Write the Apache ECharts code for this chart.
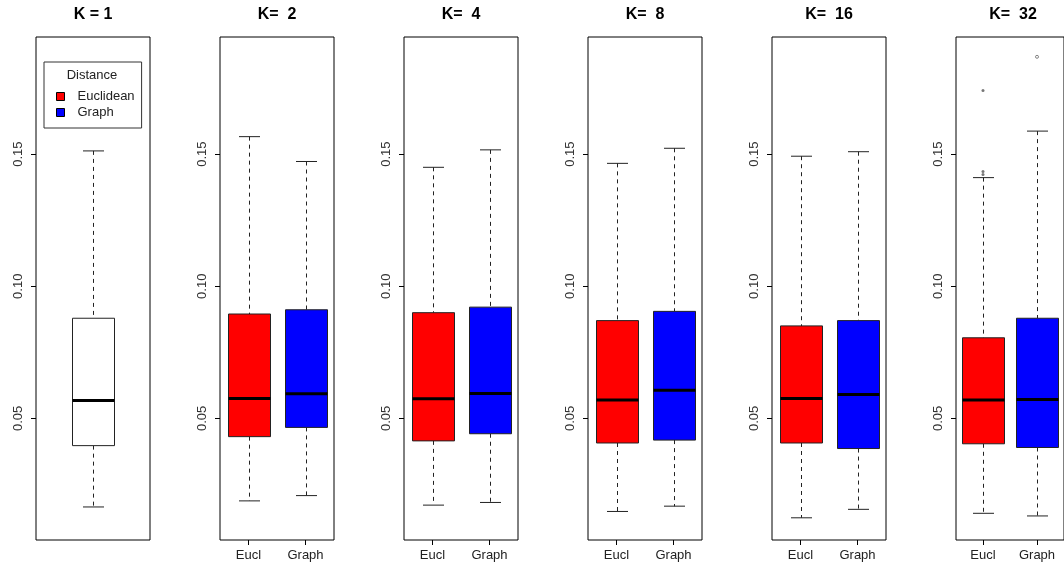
<!DOCTYPE html>
<html>
<head>
<meta charset="utf-8">
<script src="https://cdn.jsdelivr.net/npm/echarts@6/dist/echarts.min.js"></script>
<style>
  html, body { margin: 0; padding: 0; background: #fff; }
  #chart { width: 1064px; height: 568px; }
</style>
</head>
<body>
<div id="chart"></div>
<script>
// ---------- data ----------
const panelTitles = ['K = 1', 'K=  2', 'K=  4', 'K=  8', 'K=  16', 'K=  32'];
const groupLabels = ['Eucl', 'Graph'];
const legendNames = ['Euclidean', 'Graph'];
const yTicks = [0.05, 0.10, 0.15];
// box stats: [lower whisker, Q1, median, Q3, upper whisker]
const allK1 = [0.0165, 0.0397, 0.0568, 0.0879, 0.1512];
const euclStats = [
  [0.0188, 0.0431, 0.0575, 0.0895, 0.1566],  // K=2
  [0.0172, 0.0415, 0.0574, 0.0900, 0.1450],  // K=4
  [0.0148, 0.0407, 0.0570, 0.0870, 0.1465],  // K=8
  [0.0124, 0.0407, 0.0575, 0.0850, 0.1492],  // K=16
  [0.0141, 0.0404, 0.0570, 0.0805, 0.1411]   // K=32
];
const graphStats = [
  [0.0208, 0.0466, 0.0593, 0.0911, 0.1472],
  [0.0182, 0.0442, 0.0594, 0.0921, 0.1516],
  [0.0168, 0.0418, 0.0607, 0.0905, 0.1522],
  [0.0156, 0.0386, 0.0590, 0.0870, 0.1509],
  [0.0131, 0.0390, 0.0572, 0.0879, 0.1587]
];
const euclOutliersK32 = [0.1741, 0.1434, 0.1423];
const graphOutliersK32 = [0.1868];
const yMin = 0.0040, yMax = 0.1943;

// ---------- layout ----------
const FONT = 'Liberation Sans, Arial, sans-serif';
const panelLeft0 = 36, panelStep = 184, panelW = 114, panelTop = 37, panelH = 503;
const colors = { all: '#ffffff', eucl: '#ff0000', graph: '#0000ff' };

function renderBox(params, api) {
  const x = api.value(0);
  const lo = api.coord([x, api.value(1)]);
  const q1 = api.coord([x, api.value(2)]);
  const md = api.coord([x, api.value(3)]);
  const q3 = api.coord([x, api.value(4)]);
  const hi = api.coord([x, api.value(5)]);
  const cx = Math.round(lo[0]) + 0.5;
  const hw = 21, cw = 10.5;
  const fill = api.visual('color');
  const stroke = '#222';
  return {
    type: 'group',
    children: [
      { type: 'line', shape: { x1: cx, y1: hi[1], x2: cx, y2: q3[1] },
        style: { stroke: stroke, lineWidth: 1, lineDash: [4, 4] } },
      { type: 'line', shape: { x1: cx, y1: q1[1], x2: cx, y2: lo[1] },
        style: { stroke: stroke, lineWidth: 1, lineDash: [4, 4] } },
      { type: 'line', shape: { x1: cx - cw, y1: hi[1], x2: cx + cw, y2: hi[1] },
        style: { stroke: stroke, lineWidth: 1 } },
      { type: 'line', shape: { x1: cx - cw, y1: lo[1], x2: cx + cw, y2: lo[1] },
        style: { stroke: stroke, lineWidth: 1 } },
      { type: 'rect', shape: { x: cx - hw, y: q3[1], width: 2 * hw, height: q1[1] - q3[1] },
        style: { fill: fill, stroke: stroke, lineWidth: 1 } },
      { type: 'line', shape: { x1: cx - hw, y1: md[1], x2: cx + hw, y2: md[1] },
        style: { stroke: '#000', lineWidth: 3 } }
    ]
  };
}

const grids = [], xAxes = [], yAxes = [], series = [], graphics = [];
for (let i = 0; i < 6; i++) {
  const left = panelLeft0 + panelStep * i;
  grids.push({ left: left, top: panelTop, width: panelW, height: panelH,
               show: true, borderColor: '#000', borderWidth: 1, backgroundColor: 'transparent' });
  const isFirst = i === 0;
  xAxes.push({
    type: 'category', gridIndex: i,
    data: isFirst ? [''] : groupLabels,
    axisLine: { show: false },
    axisTick: { show: !isFirst, alignWithLabel: true, length: 5, lineStyle: { color: '#000' } },
    axisLabel: { show: !isFirst, margin: 9, fontSize: 13, color: '#222', fontFamily: FONT },
    splitLine: { show: false }
  });
  yAxes.push({
    type: 'value', gridIndex: i, min: yMin, max: yMax,
    axisLine: { show: false },
    axisTick: { show: true, length: 5, customValues: yTicks, lineStyle: { color: '#000' } },
    axisLabel: { show: true, rotate: 90, margin: 11, fontSize: 13, color: '#333', fontFamily: FONT,
                 customValues: yTicks, formatter: v => v.toFixed(2) },
    splitLine: { show: false }
  });
  graphics.push({
    type: 'text',
    x: left + panelW / 2, y: 15,
    style: { text: panelTitles[i], fontSize: 16, fontWeight: 'bold', fontFamily: FONT,
             fill: '#000', textAlign: 'center', textVerticalAlign: 'middle' }
  });
  if (isFirst) {
    series.push({
      type: 'custom', name: 'All', xAxisIndex: 0, yAxisIndex: 0,
      itemStyle: { color: colors.all },
      encode: { x: 0, y: [1, 2, 3, 4, 5] },
      renderItem: renderBox,
      data: [[0].concat(allK1)]
    });
  } else {
    series.push({
      type: 'custom', name: legendNames[0], xAxisIndex: i, yAxisIndex: i,
      itemStyle: { color: colors.eucl },
      encode: { x: 0, y: [1, 2, 3, 4, 5] },
      renderItem: renderBox,
      data: [[0].concat(euclStats[i - 1])]
    });
    series.push({
      type: 'custom', name: legendNames[1], xAxisIndex: i, yAxisIndex: i,
      itemStyle: { color: colors.graph },
      encode: { x: 0, y: [1, 2, 3, 4, 5] },
      renderItem: renderBox,
      data: [[1].concat(graphStats[i - 1])]
    });
  }
}
// outliers in K=32
series.push({
  type: 'scatter', name: 'out-eucl', xAxisIndex: 5, yAxisIndex: 5,
  symbol: 'circle', symbolSize: 3, itemStyle: { color: '#555' },
  data: euclOutliersK32.map(v => [0, v])
});
series.push({
  type: 'scatter', name: 'out-graph', xAxisIndex: 5, yAxisIndex: 5,
  symbol: 'circle', symbolSize: 3,
  itemStyle: { color: '#fff', borderColor: '#444', borderWidth: 0.8 },
  data: graphOutliersK32.map(v => [1, v])
});
// legend title
graphics.push({
  type: 'text', x: 92, y: 75,
  style: { text: 'Distance', fontSize: 13, fontFamily: FONT, fill: '#222',
           textAlign: 'center', textVerticalAlign: 'middle' }
});

const chart = echarts.init(document.getElementById('chart'), null, { renderer: 'canvas' });
chart.setOption({
  animation: false,
  backgroundColor: '#fff',
  grid: grids,
  xAxis: xAxes,
  yAxis: yAxes,
  legend: {
    data: legendNames, orient: 'vertical', left: 44, top: 62,
    padding: [28, 7, 9, 12], itemGap: 3, itemWidth: 8, itemHeight: 8,
    icon: 'rect',
    itemStyle: { borderColor: '#000', borderWidth: 1 },
    borderColor: '#333', borderWidth: 1, selectedMode: false,
    textStyle: { fontSize: 13, color: '#222', fontFamily: FONT, padding: [0, 0, 0, 8] }
  },
  graphic: graphics,
  series: series
});
</script>
</body>
</html>
